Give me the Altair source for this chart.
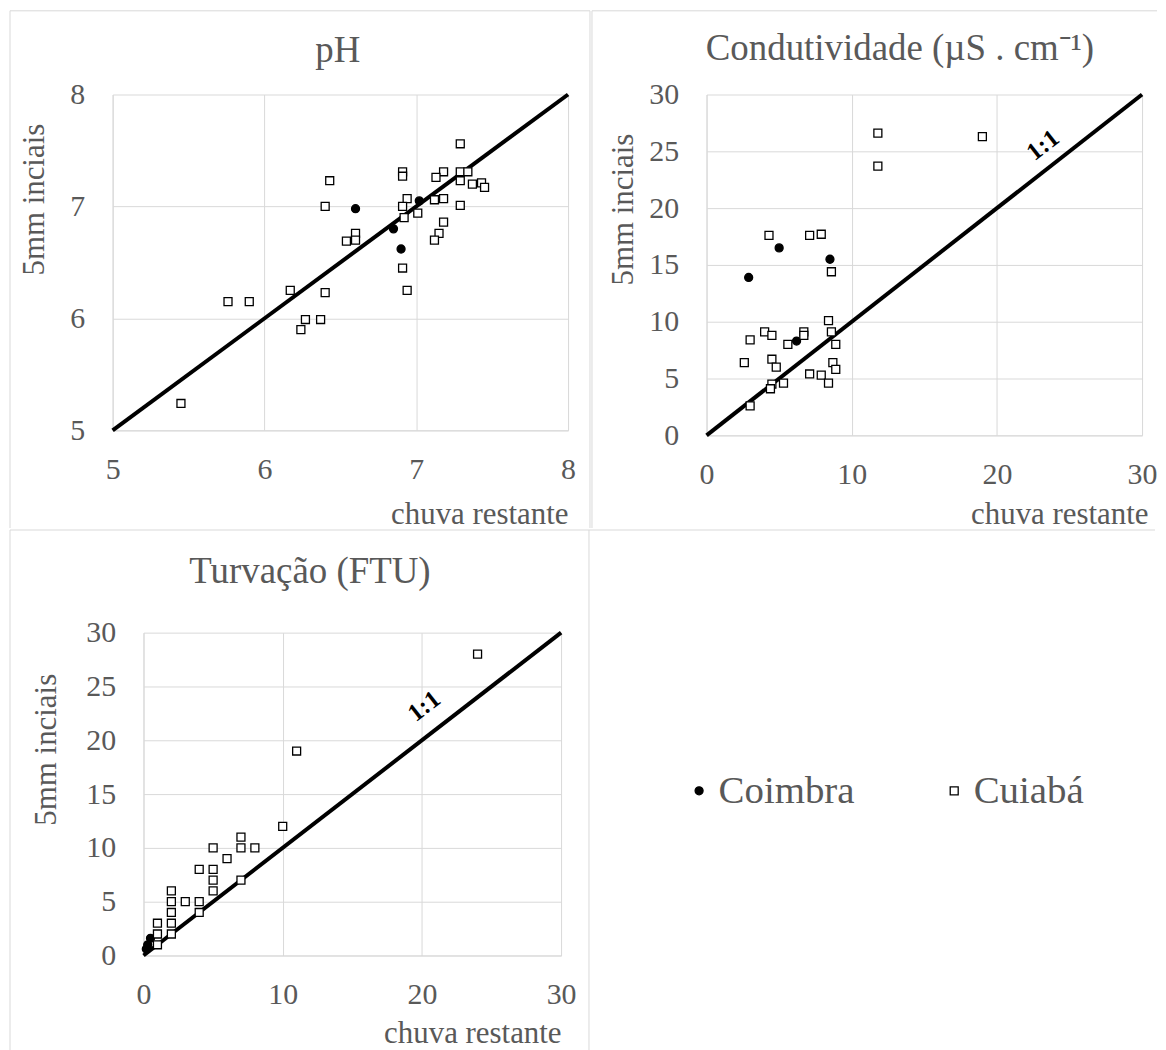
import altair as alt
import pandas as pd

FONT = "Liberation Serif"
GREY = "#595959"
GRID = "#d9d9d9"
SITES = ["Coimbra", "Cuiabá"]

# ---------------- data ----------------
ph_x_cuiaba = [7.29, 6.91, 6.91, 7.18, 7.13, 7.29, 7.34, 7.29, 7.37, 7.43, 7.45, 6.43, 6.40, 6.94, 6.91, 7.12,
               7.18, 7.29, 6.92, 7.01, 7.18, 7.15, 7.12, 6.60, 6.60, 6.54, 6.91, 6.94, 6.17, 6.40, 5.76, 5.90,
               6.27, 6.37, 6.24, 5.45]
ph_y_cuiaba = [7.56, 7.31, 7.27, 7.31, 7.26, 7.31, 7.31, 7.23, 7.20, 7.21, 7.17, 7.23, 7.00, 7.07, 7.00, 7.06,
               7.07, 7.01, 6.90, 6.94, 6.86, 6.76, 6.70, 6.76, 6.70, 6.69, 6.45, 6.25, 6.25, 6.23, 6.15, 6.15,
               5.99, 5.99, 5.90, 5.24]
ph_x_coimbra = [6.60, 7.02, 6.85, 6.90]
ph_y_coimbra = [6.98, 7.05, 6.80, 6.62]

cond_x_cuiaba = [11.8, 19.0, 11.8, 4.3, 7.1, 7.9, 8.6, 8.4, 4.0, 4.5, 6.7, 6.7, 8.6, 3.0, 5.6, 8.9, 2.6, 4.5,
                 4.8, 8.7, 8.9, 7.1, 7.9, 8.4, 5.3, 4.5, 4.4, 3.0]
cond_y_cuiaba = [26.6, 26.3, 23.7, 17.6, 17.6, 17.7, 14.4, 10.1, 9.1, 8.8, 9.1, 8.8, 9.1, 8.4, 8.0, 8.0, 6.4,
                 6.7, 6.0, 6.4, 5.8, 5.4, 5.3, 4.6, 4.6, 4.5, 4.1, 2.6]
cond_x_coimbra = [5.0, 8.5, 2.9, 6.2]
cond_y_coimbra = [16.5, 15.5, 13.9, 8.3]

turv_x_cuiaba = [24, 11, 10, 7, 7, 5, 8, 6, 4, 5, 5, 7, 5, 2, 2, 2, 2, 2, 3, 4, 4, 1, 1, 1]
turv_y_cuiaba = [28, 19, 12, 11, 10, 10, 10, 9, 8, 8, 7, 7, 6, 6, 5, 4, 3, 2, 5, 5, 4, 3, 2, 1]
turv_x_coimbra = [0.2, 0.3, 0.5]
turv_y_coimbra = [0.6, 1.0, 1.6]

ph_ticks = [5, 6, 7, 8]
x30_ticks = [0, 10, 20, 30]
y30_ticks = [0, 5, 10, 15, 20, 25, 30]
ph_line = [5, 8]
c_line = [0, 30]

titles = ["pH", "Condutividade (µS . cm⁻¹)", "Turvação (FTU)"]
x_title = "chuva restante"
y_title = "5mm inciais"
ratio_label = "1:1"
cond_label_pos = [23.5, 25.0]
turv_label_pos = [20.5, 22.6]


def frame(xc, yc, xo, yo):
    rows = [{"x": x, "y": y, "Local": "Coimbra"} for x, y in zip(xo, yo)]
    rows += [{"x": x, "y": y, "Local": "Cuiabá"} for x, y in zip(xc, yc)]
    return pd.DataFrame(rows)


legend = alt.Legend(title=None, orient="none", legendX=674, legendY=679, direction="horizontal",
                    labelFont=FONT, labelFontSize=39, labelColor=GREY, symbolSize=64,
                    symbolStrokeWidth=1.3, labelOffset=0, columnPadding=80)


def panel(df, dom, xticks, yticks, w, h, title, tpos, ytx, yty, xtx, xty, line, label, border_layers):
    x_enc = alt.X("x:Q", scale=alt.Scale(domain=dom, nice=False, zero=False),
                  axis=alt.Axis(values=xticks, title=x_title, titleX=xtx, titleY=xty,
                                titleAlign="right", titleBaseline="alphabetic", labelPadding=24))
    y_enc = alt.Y("y:Q", scale=alt.Scale(domain=dom, nice=False, zero=False),
                  axis=alt.Axis(values=yticks, title=y_title, titleAngle=270, titleX=ytx, titleY=yty,
                                titleAlign="center", titleBaseline="alphabetic", labelPadding=28))
    line_df = pd.DataFrame({"x": line, "y": line})
    ln = alt.Chart(line_df).mark_line(color="black", strokeWidth=4).encode(x=x_enc, y=y_enc)
    pts = alt.Chart(df).mark_point(size=64, strokeWidth=1.3, opacity=1).encode(
        x=x_enc, y=y_enc,
        shape=alt.Shape("Local:N", scale=alt.Scale(domain=SITES, range=["circle", "square"]), legend=legend),
        fill=alt.Fill("Local:N", scale=alt.Scale(domain=SITES, range=["black", "white"]), legend=legend),
        stroke=alt.Stroke("Local:N", scale=alt.Scale(domain=SITES, range=["black", "black"]), legend=legend),
    )
    ttl = alt.Chart(alt.Data(values=[{"t": title}])).mark_text(
        font=FONT, fontSize=37, color=GREY, align="center", baseline="alphabetic"
    ).encode(text="t:N", x=alt.value(tpos[0]), y=alt.value(tpos[1]))
    layers = border_layers + [ln, pts, ttl]
    if label is not None:
        lab_df = pd.DataFrame({"x": [label[0]], "y": [label[1]], "t": [ratio_label]})
        layers.append(alt.Chart(lab_df).mark_text(font=FONT, fontSize=25, fontWeight="bold", color="black",
                                                   angle=322, baseline="alphabetic", align="center")
                      .encode(x=x_enc, y=y_enc, text="t:N"))
    return alt.layer(*layers).properties(width=w, height=h)


def rule(x0, x1, y0, y1):
    return alt.Chart(alt.Data(values=[{"b": 1}])).mark_rule(color=GRID, strokeWidth=1).encode(
        x=alt.value(x0), x2=alt.value(x1), y=alt.value(y0), y2=alt.value(y1))


def spacer():
    return alt.Chart(alt.Data(values=[{"b": 1}])).mark_rule(opacity=0).encode(
        x=alt.value(0), y=alt.value(0), y2=alt.value(1)).properties(width=1, height=1)


ph = panel(frame(ph_x_cuiaba, ph_y_cuiaba, ph_x_coimbra, ph_y_coimbra), [5, 8], ph_ticks, ph_ticks,
           457, 337, titles[0], (226, -33), -69, 105, 457, 93, ph_line, None,
           [rule(-103, 479, -84, -84), rule(-103, -103, -84, 435), rule(479, 479, -84, 435)])
cond = panel(frame(cond_x_cuiaba, cond_y_cuiaba, cond_x_coimbra, cond_y_coimbra), [0, 30], x30_ticks, y30_ticks,
             437, 342, titles[1], (194, -35), -74, 115, 443, 88, c_line, cond_label_pos,
             [rule(-115, 452, -84, -84), rule(-115, -115, -84, 435)])
turv = panel(frame(turv_x_cuiaba, turv_y_cuiaba, turv_x_coimbra, turv_y_coimbra), [0, 30], x30_ticks, y30_ticks,
             419, 324, titles[2], (167, -50), -88, 117, 419, 87, c_line, turv_label_pos,
             [rule(-134, 1015, -103, -103), rule(-134, -134, -103, 420), rule(447, 447, -103, 420)])

top = alt.hconcat(spacer(), ph, cond, spacing=0)
bottom = alt.hconcat(spacer(), turv, spacing=0)
chart = alt.vconcat(top, bottom, spacing=0).properties(padding=0).resolve_scale(
    shape="shared", fill="shared", stroke="shared"
).configure_view(strokeWidth=0).configure_axis(
    labelFont=FONT, labelFontSize=30, labelColor=GREY, titleFont=FONT, titleFontSize=31,
    titleColor=GREY, titleFontWeight="normal", gridColor=GRID, gridWidth=1, domainColor=GRID,
    ticks=False, labelFlush=False, labelOverlap=False
)

chart.save("out.html", embed_options={"renderer": "svg", "actions": False})
